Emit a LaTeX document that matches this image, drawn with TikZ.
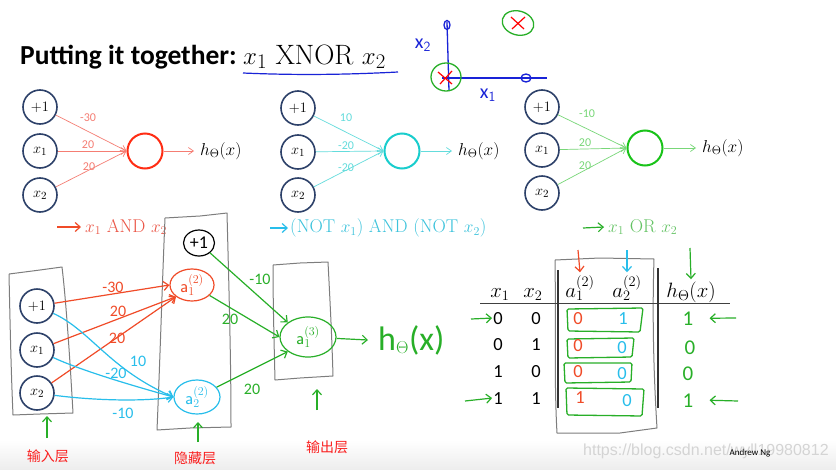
\documentclass[tikz,border=0pt]{standalone}
\usepackage{fontspec}
\newfontfamily\calfont{Carlito}
\newfontfamily\cjkfont{Noto Sans CJK SC}
\newfontfamily\wmfont{Liberation Sans}
\usetikzlibrary{arrows.meta,shapes.geometric}
\definecolor{navy}{RGB}{45,65,105}
\definecolor{redc}{RGB}{255,45,20}
\definecolor{redl}{RGB}{245,125,115}
\definecolor{redt}{RGB}{235,85,70}
\definecolor{cyanc}{RGB}{25,205,205}
\definecolor{cyanl}{RGB}{100,220,220}
\definecolor{cyant}{RGB}{60,195,220}
\definecolor{greenc}{RGB}{25,195,25}
\definecolor{greenl}{RGB}{120,215,120}
\definecolor{greent}{RGB}{100,195,100}
\definecolor{hred}{RGB}{240,75,40}
\definecolor{hcyan}{RGB}{40,190,235}
\definecolor{hgreen}{RGB}{40,175,40}
\definecolor{hblue}{RGB}{25,35,215}
\definecolor{boxgray}{RGB}{125,125,125}
\definecolor{cnred}{RGB}{250,30,30}
\tikzset{
  inp/.style={circle, draw=navy, line width=1.6pt, minimum size=34pt, inner sep=0pt, font=\fontsize{15}{15}\selectfont},
  outc/.style={circle, line width=2pt, minimum size=35pt, inner sep=0pt},
  wt/.style={font=\calfont\fontsize{12}{12}\selectfont, inner sep=0pt},
  conn/.style={line width=0.7pt, -{Straight Barb[length=5pt,width=7pt]}},
  hlab/.style={font=\fontsize{18}{18}\selectfont, inner sep=0pt},
  glab/.style={font=\fontsize{18.5}{18.5}\selectfont, inner sep=0pt, anchor=west},
  hand/.style={line width=1.2pt, -{Straight Barb[length=5pt,width=9pt]}},
  hwt/.style={font=\calfont\fontsize{16}{16}\selectfont, inner sep=0pt},
  hbox/.style={draw=boxgray, line width=1pt, line join=round},
  cnlab/.style={font=\cjkfont\fontsize{14}{14}\selectfont, text=cnred, inner sep=0pt},
  hnode/.style={ellipse, line width=1.2pt, inner sep=0pt, font=\calfont\fontsize{18}{18}\selectfont},
  tval/.style={font=\calfont\fontsize{18.5}{18.5}\selectfont, inner sep=0pt, anchor=base},
  thead/.style={font=\fontsize{20}{20}\selectfont, inner sep=0pt, anchor=base},
  rowbox/.style={draw=hgreen, line width=1.3pt, rounded corners=1.5pt}
}
\begin{document}
\begin{tikzpicture}[x=1pt,y=-1pt]
\useasboundingbox (0,0) rectangle (836,469);
\fill[white] (0,0) rectangle (836,469);
\shade[top color=white, bottom color=black!7] (0,440) rectangle (836,469);

% ---------- title ----------
\node[anchor=base west, font=\calfont\bfseries\fontsize{27.5}{30}\selectfont, inner sep=0pt] (title) at (20,64) {Putting it together:};
\node[anchor=base west, font=\fontsize{28}{30}\selectfont, inner sep=0pt] (xnor) at (243,64) {$x_1$ XNOR $x_2$};
\draw[hblue, line width=1.2pt] (243,73) .. controls (300,75.5) and (350,74.5) .. (398,72);

% ---------- sketch graph ----------
\coordinate (vtop) at (447,22);
\coordinate (vbot) at (449,91);
\coordinate (hl) at (442,78);
\coordinate (hr) at (547,78);
\draw[hblue, line width=1.3pt] (vtop) -- (vbot);
\draw[hblue, line width=1.3pt] (hl) -- (hr);
\draw[hblue, line width=1.3pt] (447,25) ellipse (3pt and 4.5pt);
\draw[hblue, line width=1.3pt] (526,78) ellipse (5pt and 4pt);
\draw[hgreen, line width=1.3pt] (446,77) ellipse (15pt and 14pt);
\draw[hgreen, line width=1.3pt, rotate around={-15:(518,23)}] (518,23) ellipse (16pt and 12pt);
\draw[red, line width=1.2pt] (438,72) -- (452,84) (452,71) -- (440,84);
\draw[red, line width=1.2pt] (511,17) -- (524,29) (525,17) -- (512,29);
\node[text=hblue, font=\calfont\fontsize{20}{20}\selectfont, inner sep=0pt] (lx2) at (423,45) {x$_{\mathsf 2}$};
\node[text=hblue, font=\calfont\fontsize{20}{20}\selectfont, inner sep=0pt] (lx1) at (488,95) {x$_{\mathsf 1}$};

% ---------- top-left: AND ----------
\node[inp] (a0) at (40,107) {$+1$};
\node[inp] (a1) at (40,151) {$x_1$};
\node[inp] (a2) at (40,195) {$x_2$};
\node[outc, draw=redc] (ao) at (145,151) {};
\node[hlab, anchor=west] (ah) at (200,151) {$h_\Theta(x)$};
\draw[conn, redl] (a0) -- (ao.west);
\draw[conn, redl] (a1) -- (ao.west);
\draw[conn, redl] (a2) -- (ao.west);
\draw[conn, redl] (ao) -- ([xshift=-6pt]ah.west);
\node[wt, text=redl] (w01) at (88,118) {-30};
\node[wt, text=redl] (w02) at (88,145) {20};
\node[wt, text=redl] (w03) at (89,167) {20};
\node[glab, text=redt] (andl) at (85,227) {$x_1$ AND $x_2$};
\coordinate (andc) at (57,227);
\draw[hand, hred] (andc) -- ([xshift=-4pt]andl.west);

% ---------- top-middle: NOR ----------
\node[inp] (b0) at (298,108) {$+1$};
\node[inp] (b1) at (298,152) {$x_1$};
\node[inp] (b2) at (298,195) {$x_2$};
\node[outc, draw=cyanc] (bo) at (402,151) {};
\node[hlab, anchor=west] (bh) at (458,151) {$h_\Theta(x)$};
\draw[conn, cyanl] (b0) -- (bo.west);
\draw[conn, cyanl] (b1) -- (bo.west);
\draw[conn, cyanl] (b2) -- (bo.west);
\draw[conn, cyanl] (bo) -- ([xshift=-6pt]bh.west);
\node[wt, text=cyanl] (w11) at (346,118) {10};
\node[wt, text=cyanl] (w12) at (346,146) {-20};
\node[wt, text=cyanl] (w13) at (346,168) {-20};
\node[glab, text=cyant] (norl) at (290,228) {(NOT $x_1$) AND (NOT $x_2$)};
\coordinate (norc) at (270,228);
\draw[hand, hcyan] (norc) -- ([xshift=-2pt]norl.west);

% ---------- top-right: OR ----------
\node[inp] (c0) at (542,107) {$+1$};
\node[inp] (c1) at (542,150) {$x_1$};
\node[inp] (c2) at (542,193) {$x_2$};
\node[outc, draw=greenc] (co) at (645,148) {};
\node[hlab, anchor=west] (ch) at (702,148) {$h_\Theta(x)$};
\draw[conn, greenl] (c0) -- (co.west);
\draw[conn, greenl] (c1) -- (co.west);
\draw[conn, greenl] (c2) -- (co.west);
\draw[conn, greenl] (co) -- ([xshift=-6pt]ch.west);
\node[wt, text=greenl] (w21) at (587,114) {-10};
\node[wt, text=greenl] (w22) at (585,143) {20};
\node[wt, text=greenl] (w23) at (585,166) {20};
\node[glab, text=greent] (orl) at (608,227) {$x_1$ OR $x_2$};
\coordinate (orc) at (583,228);
\draw[hand, hgreen] (orc) -- ([xshift=-4pt]orl.west);

% ---------- bottom-left: network ----------
\draw[hbox] (9,274) -- (40,270) -- (62,267) .. controls (66,300) and (70,360) .. (73,413) -- (40,414) -- (13,415) .. controls (11,370) and (10,320) .. (9,274);
\draw[hbox] (165,218) -- (200,216) -- (227,213) .. controls (229,290) and (231,360) .. (231,427) -- (190,428) -- (157,430) .. controls (160,360) and (162,290) .. (165,218);
\draw[hbox] (273,265) -- (300,263) -- (328,262) .. controls (330,300) and (332,340) .. (333,376) -- (300,378) -- (275,380) .. controls (274,340) and (273,300) .. (273,265);

\node[inp] (i0) at (37,306) {$+1$};
\node[inp] (i1) at (37,350) {$x_1$};
\node[inp] (i2) at (37,393) {$x_2$};
\node[hnode, draw=black, minimum width=31pt, minimum height=26pt] (h0) at (199,243) {+1};
\node[hnode, draw=hred, text=hred, minimum width=44pt, minimum height=32pt] (h1) at (192,285) {$\mathsf{a}^{(2)}_{1}$};
\node[hnode, draw=hcyan, text=hcyan, minimum width=46pt, minimum height=34pt] (h2) at (197,397) {$\mathsf{a}^{(2)}_{2}$};
\node[hnode, draw=hgreen, text=hgreen, minimum width=56pt, minimum height=40pt] (o1) at (308,337) {$\mathsf{a}^{(3)}_{1}$};
\node[font=\calfont\fontsize{34}{34}\selectfont, text=hgreen, inner sep=0pt, anchor=west] (oh) at (378,340) {h$_{\scriptscriptstyle\Theta}$(x)};
\draw[hand, hgreen] (o1) -- ([xshift=-10pt]oh.west);

% red connections
\draw[hand, hred] (i0) -- (h1.west);
\draw[hand, hred] (i1) -- (h1.south west);
\draw[hand, hred] (i2) -- (h1.south west);
\node[hwt, text=hred] (r1) at (113,287) {-30};
\node[hwt, text=hred] (r2) at (118,311) {20};
\node[hwt, text=hred] (r3) at (117,338) {20};
% cyan connections
\draw[hand, hcyan] (i0) .. controls (90,330) and (110,370) .. (h2.west);
\draw[hand, hcyan] (i1) .. controls (80,370) and (130,385) .. (h2.west);
\draw[hand, hcyan] (i2) .. controls (90,400) and (140,402) .. (h2.west);
\node[hwt, text=hcyan] (c1w) at (138,361) {10};
\node[hwt, text=hcyan] (c2w) at (116,373) {-20};
\node[hwt, text=hcyan] (c3w) at (123,413) {-10};
% green connections
\draw[hand, hgreen] (h0) -- (o1.north west);
\draw[hand, hgreen] (h1) -- (o1.west);
\draw[hand, hgreen] (h2) -- (o1.south west);
\node[hwt, text=hgreen] (g1) at (260,279) {-10};
\node[hwt, text=hgreen] (g2) at (230,319) {20};
\node[hwt, text=hgreen] (g3) at (252,389) {20};

% layer labels and arrows
\node[cnlab] (l1) at (48,456) {输入层};
\node[cnlab] (l2) at (195,458) {隐藏层};
\node[cnlab] (l3) at (327,447) {输出层};
\coordinate (u1) at (47,438);
\coordinate (u1t) at (47,416);
\coordinate (u2) at (198,442);
\coordinate (u2t) at (198,422);
\coordinate (u3) at (317,410);
\coordinate (u3t) at (317,389);
\draw[hand, hgreen] (u1) -- (u1t);
\draw[hand, hgreen] (u2) -- (u2t);
\draw[hand, hgreen] (u3) -- (u3t);

% ---------- bottom-right: table ----------
\draw[hbox] (555,260) -- (600,258) -- (654,259) .. controls (652,320) and (654,380) .. (657,428) -- (620,433) -- (557,433) .. controls (554,380) and (556,320) .. (555,260);
\node[thead] (tx1) at (500,297) {$x_1$};
\node[thead] (tx2) at (533,297) {$x_2$};
\node[thead] (ta1) at (580,297) {$a_1^{(2)}$};
\node[thead] (ta2) at (627,297) {$a_2^{(2)}$};
\node[thead] (th) at (691,297) {$h_\Theta(x)$};
\draw[line width=1pt, black!75] (480,303) -- (730,303);
\draw[line width=1.3pt, black!80] (558,270) -- (558,408);
\draw[line width=1.3pt, black!80] (658,268) -- (658,408);

\draw[rowbox] (567,309) -- (643,308) -- (640,332) -- (568,331) -- cycle;
\draw[rowbox] (567,339) -- (634,338) -- (632,357) -- (568,358) -- cycle;
\draw[rowbox] (564,363) -- (632,363) -- (631,382) -- (565,383) -- cycle;
\draw[rowbox] (566,388) -- (644,389) -- (642,416) -- (567,415) -- cycle;

\node[tval] (v11) at (498,324) {0};
\node[tval] (v12) at (536,324) {0};
\node[tval] (v21) at (498,350) {0};
\node[tval] (v22) at (536,350) {1};
\node[tval] (v31) at (498,377) {1};
\node[tval] (v32) at (536,377) {0};
\node[tval] (v41) at (498,404) {1};
\node[tval] (v42) at (536,404) {1};

\node[tval, text=hred] (p11) at (578,324) {0};
\node[tval, text=hred] (p21) at (578,351) {0};
\node[tval, text=hred] (p31) at (578,377) {0};
\node[tval, text=hred] (p41) at (580,403) {1};
\node[tval, text=hcyan] (p12) at (623,324) {1};
\node[tval, text=hcyan] (p22) at (622,353) {0};
\node[tval, text=hcyan] (p32) at (622,379) {0};
\node[tval, text=hcyan] (p42) at (627,406) {0};
\node[tval, text=hgreen, font=\calfont\fontsize{21}{21}\selectfont] (q1) at (688,325) {1};
\node[tval, text=hgreen, font=\calfont\fontsize{21}{21}\selectfont] (q2) at (690,354) {0};
\node[tval, text=hgreen, font=\calfont\fontsize{21}{21}\selectfont] (q3) at (688,380) {0};
\node[tval, text=hgreen, font=\calfont\fontsize{21}{21}\selectfont] (q4) at (688,407) {1};

\coordinate (la1) at (471,319);
\coordinate (la4) at (465,401);
\draw[hand, hgreen] (la1) -- ([xshift=-1pt]v11.west);
\draw[hand, hgreen] (la4) -- ([xshift=-1pt]v41.west);
\coordinate (ra1) at (736,318);
\coordinate (ra4) at (738,401);
\draw[hand, hgreen] (ra1) -- ([xshift=16pt]q1.east);
\draw[hand, hgreen] (ra4) -- ([xshift=16pt]q4.east);
\coordinate (da1) at (578,250);
\coordinate (da2) at (627,250);
\coordinate (da3) at (690,248);
\draw[hand, hred] (da1) -- ([yshift=3pt]ta1.north);
\draw[hand, hcyan] (da2) -- ([yshift=3pt]ta2.north);
\draw[hand, hgreen] (da3) -- ([yshift=2pt]th.north);

% ---------- watermark & credit ----------
\node[font=\wmfont\fontsize{16}{16}\selectfont, text=black!17, inner sep=0pt, anchor=west] (wm) at (583,451) {https://blog.csdn.net/wyll19980812};
\node[font=\calfont\fontsize{9}{9}\selectfont, inner sep=0pt] (ng) at (750,453) {Andrew Ng};
\end{tikzpicture}
\end{document}
